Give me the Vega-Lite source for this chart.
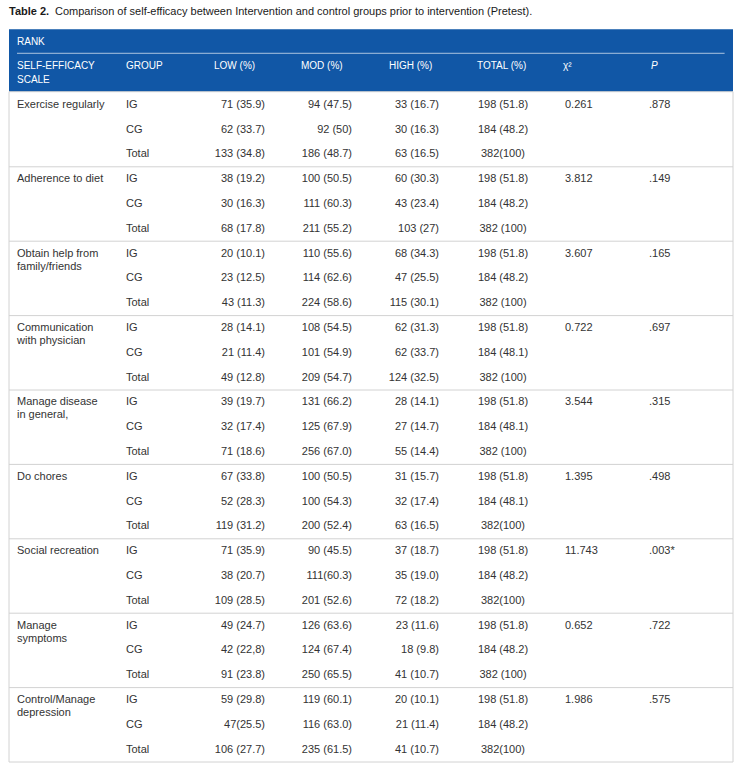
{
  "$schema": "https://vega.github.io/schema/vega-lite/v6.json",
  "width": 741,
  "height": 770,
  "padding": 0,
  "autosize": {"type": "none"},
  "background": "white",
  "config": {"view": {"stroke": null}, "text": {"font": "Liberation Sans"}},
  "resolve": {"scale": {"x": "independent"}},
  "datasets": {
    "rows": [
      {"r": 0, "scale": "Exercise regularly", "group": "IG", "low": "71 (35.9)", "mod": "94 (47.5)", "high": "33 (16.7)", "total": "198 (51.8)", "chi": "0.261", "p": ".878"},
      {"r": 1, "group": "CG", "low": "62 (33.7)", "mod": "92 (50)", "high": "30 (16.3)", "total": "184 (48.2)"},
      {"r": 2, "group": "Total", "low": "133 (34.8)", "mod": "186 (48.7)", "high": "63 (16.5)", "total": "382(100)"},
      {"r": 3, "scale": "Adherence to diet", "group": "IG", "low": "38 (19.2)", "mod": "100 (50.5)", "high": "60 (30.3)", "total": "198 (51.8)", "chi": "3.812", "p": ".149"},
      {"r": 4, "group": "CG", "low": "30 (16.3)", "mod": "111 (60.3)", "high": "43 (23.4)", "total": "184 (48.2)"},
      {"r": 5, "group": "Total", "low": "68 (17.8)", "mod": "211 (55.2)", "high": "103 (27)", "total": "382 (100)"},
      {"r": 6, "scale": "Obtain help from", "scale2": "family/friends", "group": "IG", "low": "20 (10.1)", "mod": "110 (55.6)", "high": "68 (34.3)", "total": "198 (51.8)", "chi": "3.607", "p": ".165"},
      {"r": 7, "group": "CG", "low": "23 (12.5)", "mod": "114 (62.6)", "high": "47 (25.5)", "total": "184 (48.2)"},
      {"r": 8, "group": "Total", "low": "43 (11.3)", "mod": "224 (58.6)", "high": "115 (30.1)", "total": "382 (100)"},
      {"r": 9, "scale": "Communication", "scale2": "with physician", "group": "IG", "low": "28 (14.1)", "mod": "108 (54.5)", "high": "62 (31.3)", "total": "198 (51.8)", "chi": "0.722", "p": ".697"},
      {"r": 10, "group": "CG", "low": "21 (11.4)", "mod": "101 (54.9)", "high": "62 (33.7)", "total": "184 (48.1)"},
      {"r": 11, "group": "Total", "low": "49 (12.8)", "mod": "209 (54.7)", "high": "124 (32.5)", "total": "382 (100)"},
      {"r": 12, "scale": "Manage disease", "scale2": "in general,", "group": "IG", "low": "39 (19.7)", "mod": "131 (66.2)", "high": "28 (14.1)", "total": "198 (51.8)", "chi": "3.544", "p": ".315"},
      {"r": 13, "group": "CG", "low": "32 (17.4)", "mod": "125 (67.9)", "high": "27 (14.7)", "total": "184 (48.1)"},
      {"r": 14, "group": "Total", "low": "71 (18.6)", "mod": "256 (67.0)", "high": "55 (14.4)", "total": "382 (100)"},
      {"r": 15, "scale": "Do chores", "group": "IG", "low": "67 (33.8)", "mod": "100 (50.5)", "high": "31 (15.7)", "total": "198 (51.8)", "chi": "1.395", "p": ".498"},
      {"r": 16, "group": "CG", "low": "52 (28.3)", "mod": "100 (54.3)", "high": "32 (17.4)", "total": "184 (48.1)"},
      {"r": 17, "group": "Total", "low": "119 (31.2)", "mod": "200 (52.4)", "high": "63 (16.5)", "total": "382(100)"},
      {"r": 18, "scale": "Social recreation", "group": "IG", "low": "71 (35.9)", "mod": "90 (45.5)", "high": "37 (18.7)", "total": "198 (51.8)", "chi": "11.743", "p": ".003*"},
      {"r": 19, "group": "CG", "low": "38 (20.7)", "mod": "111(60.3)", "high": "35 (19.0)", "total": "184 (48.2)"},
      {"r": 20, "group": "Total", "low": "109 (28.5)", "mod": "201 (52.6)", "high": "72 (18.2)", "total": "382(100)"},
      {"r": 21, "scale": "Manage", "scale2": "symptoms", "group": "IG", "low": "49 (24.7)", "mod": "126 (63.6)", "high": "23 (11.6)", "total": "198 (51.8)", "chi": "0.652", "p": ".722"},
      {"r": 22, "group": "CG", "low": "42 (22,8)", "mod": "124 (67.4)", "high": "18 (9.8)", "total": "184 (48.2)"},
      {"r": 23, "group": "Total", "low": "91 (23.8)", "mod": "250 (65.5)", "high": "41 (10.7)", "total": "382 (100)"},
      {"r": 24, "scale": "Control/Manage", "scale2": "depression", "group": "IG", "low": "59 (29.8)", "mod": "119 (60.1)", "high": "20 (10.1)", "total": "198 (51.8)", "chi": "1.986", "p": ".575"},
      {"r": 25, "group": "CG", "low": "47(25.5)", "mod": "116 (63.0)", "high": "21 (11.4)", "total": "184 (48.2)"},
      {"r": 26, "group": "Total", "low": "106 (27.7)", "mod": "235 (61.5)", "high": "41 (10.7)", "total": "382(100)"}
    ],
    "heads": [
      {"h": 0, "t": "SELF-EFFICACY"},
      {"h": 1, "t": "GROUP"},
      {"h": 2, "t": "LOW (%)"},
      {"h": 3, "t": "MOD (%)"},
      {"h": 4, "t": "HIGH (%)"},
      {"h": 5, "t": "TOTAL (%)"},
      {"h": 6, "t": "χ²"}
    ]
  },
  "layer": [
    {
      "data": {"values": [{}]},
      "mark": {"type": "rect", "color": "#1157a6"},
      "encoding": {
        "x": {"datum": -1, "type": "quantitative", "axis": null, "scale": {"domain": [-1, 0, 1, 2, 3, 4, 5, 6, 7, 8], "range": [9, 17, 126, 265, 352, 439, 503, 565, 649, 733]}},
        "x2": {"datum": 8},
        "y": {"datum": -3.044, "type": "quantitative", "axis": null, "scale": {"domain": [0, 26], "range": [104.8, 749.6], "nice": false, "zero": false}},
        "y2": {"datum": -0.528}
      }
    },
    {
      "data": {"values": [{}]},
      "mark": {"type": "rect", "fill": null, "fillOpacity": 0, "stroke": "#d2d2d2", "strokeWidth": 1},
      "encoding": {
        "x": {"datum": -1, "type": "quantitative", "axis": null, "scale": {"domain": [-1, 0, 1, 2, 3, 4, 5, 6, 7, 8], "range": [9, 17, 126, 265, 352, 439, 503, 565, 649, 733]}},
        "x2": {"datum": 8},
        "y": {"datum": -0.528, "type": "quantitative", "axis": null, "scale": {"domain": [0, 26], "range": [104.8, 749.6], "nice": false, "zero": false}},
        "y2": {"datum": 26.5}
      }
    },
    {
      "data": {"values": [{}]},
      "mark": {"type": "rule", "color": "#ffffff", "opacity": 0.65, "strokeWidth": 1},
      "encoding": {
        "x": {"datum": 0, "type": "quantitative", "axis": null, "scale": {"domain": [-1, 0, 1, 2, 3, 4, 5, 6, 7, 8], "range": [9, 17, 126, 265, 352, 439, 503, 565, 649, 733]}},
        "x2": {"datum": 7.9},
        "y": {"datum": -2.077, "type": "quantitative", "axis": null, "scale": {"domain": [0, 26], "range": [104.8, 749.6], "nice": false, "zero": false}}
      }
    },
    {
      "data": {"name": "rows"},
      "transform": [{"filter": "datum.group == 'Total' && datum.r < 26"}],
      "mark": {"type": "rule", "color": "#d2d2d2", "strokeWidth": 1, "yOffset": 12.4},
      "encoding": {
        "x": {"datum": -1, "type": "quantitative", "axis": null, "scale": {"domain": [-1, 0, 1, 2, 3, 4, 5, 6, 7, 8], "range": [9, 17, 126, 265, 352, 439, 503, 565, 649, 733]}},
        "x2": {"datum": 8},
        "y": {"field": "r", "type": "quantitative", "axis": null, "scale": {"domain": [0, 26], "range": [104.8, 749.6], "nice": false, "zero": false}}
      }
    },
    {
      "data": {"values": [{}]},
      "mark": {"type": "text", "text": "Table 2.", "fontWeight": "bold", "fontSize": 11, "align": "left", "baseline": "middle", "color": "#1a1a1a"},
      "encoding": {
        "x": {"datum": -1, "type": "quantitative", "axis": null, "scale": {"domain": [-1, 0, 1, 2, 3, 4, 5, 6, 7, 8], "range": [9, 17, 126, 265, 352, 439, 503, 565, 649, 733]}},
        "y": {"datum": -3.722, "type": "quantitative", "axis": null, "scale": {"domain": [0, 26], "range": [104.8, 749.6], "nice": false, "zero": false}}
      }
    },
    {
      "data": {"values": [{}]},
      "mark": {"type": "text", "text": "Comparison of self-efficacy between Intervention and control groups prior to intervention (Pretest).", "fontSize": 11, "align": "left", "baseline": "middle", "color": "#1a1a1a", "dx": 46},
      "encoding": {
        "x": {"datum": -1, "type": "quantitative", "axis": null, "scale": {"domain": [-1, 0, 1, 2, 3, 4, 5, 6, 7, 8], "range": [9, 17, 126, 265, 352, 439, 503, 565, 649, 733]}},
        "y": {"datum": -3.722, "type": "quantitative", "axis": null, "scale": {"domain": [0, 26], "range": [104.8, 749.6], "nice": false, "zero": false}}
      }
    },
    {
      "data": {"values": [{"t": "RANK"}]},
      "mark": {"type": "text", "fontSize": 10, "align": "left", "baseline": "middle", "color": "#ffffff"},
      "encoding": {
        "text": {"field": "t"},
        "x": {"datum": 0, "type": "quantitative", "axis": null, "scale": {"domain": [-1, 0, 1, 2, 3, 4, 5, 6, 7, 8], "range": [9, 17, 126, 265, 352, 439, 503, 565, 649, 733]}},
        "y": {"datum": -2.544, "type": "quantitative", "axis": null, "scale": {"domain": [0, 26], "range": [104.8, 749.6], "nice": false, "zero": false}}
      }
    },
    {
      "data": {"values": [{"t": "SCALE"}]},
      "mark": {"type": "text", "fontSize": 10, "align": "left", "baseline": "middle", "color": "#ffffff"},
      "encoding": {
        "text": {"field": "t"},
        "x": {"datum": 0, "type": "quantitative", "axis": null, "scale": {"domain": [-1, 0, 1, 2, 3, 4, 5, 6, 7, 8], "range": [9, 17, 126, 265, 352, 439, 503, 565, 649, 733]}},
        "y": {"datum": -0.988, "type": "quantitative", "axis": null, "scale": {"domain": [0, 26], "range": [104.8, 749.6], "nice": false, "zero": false}}
      }
    },
    {
      "data": {"name": "heads"},
      "mark": {"type": "text", "fontSize": 10, "align": "left", "baseline": "middle", "color": "#ffffff"},
      "encoding": {
        "text": {"field": "t"},
        "x": {"field": "h", "type": "quantitative", "axis": null, "scale": {"domain": [0, 1, 2, 3, 4, 5, 6, 7], "range": [17, 126, 214, 301, 389, 477, 563, 651]}},
        "y": {"datum": -1.577, "type": "quantitative", "axis": null, "scale": {"domain": [0, 26], "range": [104.8, 749.6], "nice": false, "zero": false}}
      }
    },
    {
      "data": {"values": [{"h": 7, "t": "P"}]},
      "mark": {"type": "text", "fontSize": 10, "fontStyle": "italic", "align": "left", "baseline": "middle", "color": "#ffffff"},
      "encoding": {
        "text": {"field": "t"},
        "x": {"field": "h", "type": "quantitative", "axis": null, "scale": {"domain": [0, 1, 2, 3, 4, 5, 6, 7], "range": [17, 126, 214, 301, 389, 477, 563, 651]}},
        "y": {"datum": -1.577, "type": "quantitative", "axis": null, "scale": {"domain": [0, 26], "range": [104.8, 749.6], "nice": false, "zero": false}}
      }
    },
    {
      "data": {"name": "rows"},
      "transform": [{"filter": "datum.scale"}],
      "mark": {"type": "text", "fontSize": 11, "align": "left", "baseline": "middle", "color": "#333333"},
      "encoding": {
        "text": {"field": "scale"},
        "x": {"datum": 0, "type": "quantitative", "axis": null, "scale": {"domain": [-1, 0, 1, 2, 3, 4, 5, 6, 7, 8], "range": [9, 17, 126, 265, 352, 439, 503, 565, 649, 733]}},
        "y": {"field": "r", "type": "quantitative", "axis": null, "scale": {"domain": [0, 26], "range": [104.8, 749.6], "nice": false, "zero": false}}
      }
    },
    {
      "data": {"name": "rows"},
      "transform": [{"filter": "datum.scale2"}],
      "mark": {"type": "text", "fontSize": 11, "align": "left", "baseline": "middle", "color": "#333333", "dy": 13},
      "encoding": {
        "text": {"field": "scale2"},
        "x": {"datum": 0, "type": "quantitative", "axis": null, "scale": {"domain": [-1, 0, 1, 2, 3, 4, 5, 6, 7, 8], "range": [9, 17, 126, 265, 352, 439, 503, 565, 649, 733]}},
        "y": {"field": "r", "type": "quantitative", "axis": null, "scale": {"domain": [0, 26], "range": [104.8, 749.6], "nice": false, "zero": false}}
      }
    },
    {
      "data": {"name": "rows"},
      "mark": {"type": "text", "fontSize": 11, "align": "left", "baseline": "middle", "color": "#333333"},
      "encoding": {
        "text": {"field": "group"},
        "x": {"datum": 1, "type": "quantitative", "axis": null, "scale": {"domain": [-1, 0, 1, 2, 3, 4, 5, 6, 7, 8], "range": [9, 17, 126, 265, 352, 439, 503, 565, 649, 733]}},
        "y": {"field": "r", "type": "quantitative", "axis": null, "scale": {"domain": [0, 26], "range": [104.8, 749.6], "nice": false, "zero": false}}
      }
    },
    {
      "data": {"name": "rows"},
      "mark": {"type": "text", "fontSize": 11, "align": "right", "baseline": "middle", "color": "#333333"},
      "encoding": {
        "text": {"field": "low"},
        "x": {"datum": 2, "type": "quantitative", "axis": null, "scale": {"domain": [-1, 0, 1, 2, 3, 4, 5, 6, 7, 8], "range": [9, 17, 126, 265, 352, 439, 503, 565, 649, 733]}},
        "y": {"field": "r", "type": "quantitative", "axis": null, "scale": {"domain": [0, 26], "range": [104.8, 749.6], "nice": false, "zero": false}}
      }
    },
    {
      "data": {"name": "rows"},
      "mark": {"type": "text", "fontSize": 11, "align": "right", "baseline": "middle", "color": "#333333"},
      "encoding": {
        "text": {"field": "mod"},
        "x": {"datum": 3, "type": "quantitative", "axis": null, "scale": {"domain": [-1, 0, 1, 2, 3, 4, 5, 6, 7, 8], "range": [9, 17, 126, 265, 352, 439, 503, 565, 649, 733]}},
        "y": {"field": "r", "type": "quantitative", "axis": null, "scale": {"domain": [0, 26], "range": [104.8, 749.6], "nice": false, "zero": false}}
      }
    },
    {
      "data": {"name": "rows"},
      "mark": {"type": "text", "fontSize": 11, "align": "right", "baseline": "middle", "color": "#333333"},
      "encoding": {
        "text": {"field": "high"},
        "x": {"datum": 4, "type": "quantitative", "axis": null, "scale": {"domain": [-1, 0, 1, 2, 3, 4, 5, 6, 7, 8], "range": [9, 17, 126, 265, 352, 439, 503, 565, 649, 733]}},
        "y": {"field": "r", "type": "quantitative", "axis": null, "scale": {"domain": [0, 26], "range": [104.8, 749.6], "nice": false, "zero": false}}
      }
    },
    {
      "data": {"name": "rows"},
      "mark": {"type": "text", "fontSize": 11, "align": "center", "baseline": "middle", "color": "#333333"},
      "encoding": {
        "text": {"field": "total"},
        "x": {"datum": 5, "type": "quantitative", "axis": null, "scale": {"domain": [-1, 0, 1, 2, 3, 4, 5, 6, 7, 8], "range": [9, 17, 126, 265, 352, 439, 503, 565, 649, 733]}},
        "y": {"field": "r", "type": "quantitative", "axis": null, "scale": {"domain": [0, 26], "range": [104.8, 749.6], "nice": false, "zero": false}}
      }
    },
    {
      "data": {"name": "rows"},
      "transform": [{"filter": "datum.chi"}],
      "mark": {"type": "text", "fontSize": 11, "align": "left", "baseline": "middle", "color": "#333333"},
      "encoding": {
        "text": {"field": "chi"},
        "x": {"datum": 6, "type": "quantitative", "axis": null, "scale": {"domain": [-1, 0, 1, 2, 3, 4, 5, 6, 7, 8], "range": [9, 17, 126, 265, 352, 439, 503, 565, 649, 733]}},
        "y": {"field": "r", "type": "quantitative", "axis": null, "scale": {"domain": [0, 26], "range": [104.8, 749.6], "nice": false, "zero": false}}
      }
    },
    {
      "data": {"name": "rows"},
      "transform": [{"filter": "datum.p"}],
      "mark": {"type": "text", "fontSize": 11, "align": "left", "baseline": "middle", "color": "#333333"},
      "encoding": {
        "text": {"field": "p"},
        "x": {"datum": 7, "type": "quantitative", "axis": null, "scale": {"domain": [-1, 0, 1, 2, 3, 4, 5, 6, 7, 8], "range": [9, 17, 126, 265, 352, 439, 503, 565, 649, 733]}},
        "y": {"field": "r", "type": "quantitative", "axis": null, "scale": {"domain": [0, 26], "range": [104.8, 749.6], "nice": false, "zero": false}}
      }
    }
  ]
}
